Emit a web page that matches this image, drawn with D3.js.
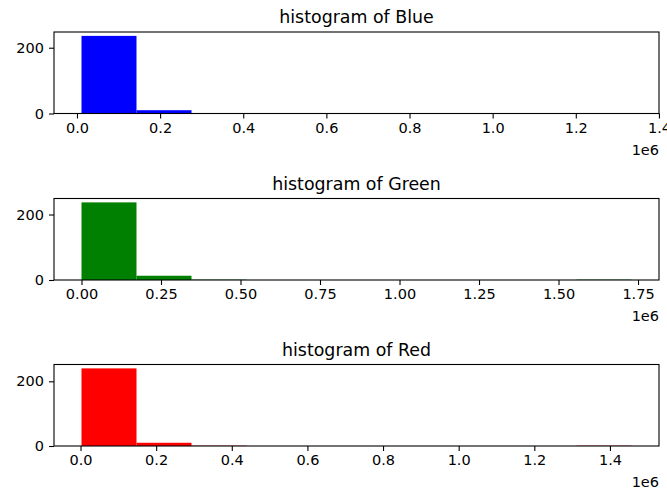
<!DOCTYPE html>
<html>
<head>
<meta charset="utf-8">
<script src="https://cdn.jsdelivr.net/npm/d3@7"></script>
<style>
  html, body { margin: 0; padding: 0; background: #fff; }
  svg text { font-family: "DejaVu Sans", sans-serif; fill: #000; }
</style>
</head>
<body>
<svg id="chart" width="667" height="490"></svg>
<script>
// Bin counts (10 equal-width bins) for each colour channel
const blueCounts  = [236, 10, 1, 1, 0, 0, 0, 0, 0, 1];
const greenCounts = [237, 13, 1, 0, 0, 0, 0, 0, 0, 1];
const redCounts   = [240, 10, 1, 0, 0, 0, 0, 0, 0, 1];

// Data range [min, max] for each channel (bins span this range)
const blueRange  = [0.0109e6, 1.334e6];
const greenRange = [0.0, 1.7295e6];
const redRange   = [0.0026e6, 1.457e6];

// X tick values (in units of 1e6) and their labels
const blueTicks   = [0.0, 0.2, 0.4, 0.6, 0.8, 1.0, 1.2, 1.4];
const blueLabels  = ["0.0", "0.2", "0.4", "0.6", "0.8", "1.0", "1.2", "1.4"];
const greenTicks  = [0.0, 0.25, 0.5, 0.75, 1.0, 1.25, 1.5, 1.75];
const greenLabels = ["0.00", "0.25", "0.50", "0.75", "1.00", "1.25", "1.50", "1.75"];
const redTicks    = [0.0, 0.2, 0.4, 0.6, 0.8, 1.0, 1.2, 1.4];
const redLabels   = ["0.0", "0.2", "0.4", "0.6", "0.8", "1.0", "1.2", "1.4"];

const yTicks = [0, 200];
const channelNames = ["Blue", "Green", "Red"];
const channelColors = ["#0000ff", "#008000", "#ff0000"];

const panels = [
  { counts: blueCounts,  range: blueRange,  ticks: blueTicks,  labels: blueLabels },
  { counts: greenCounts, range: greenRange, ticks: greenTicks, labels: greenLabels },
  { counts: redCounts,   range: redRange,   ticks: redTicks,   labels: redLabels }
];

const svg = d3.select("#chart");
const left = 54, right = 659;
const tops = [32, 198.5, 364.5];
const plotH = 81.5;

panels.forEach((p, i) => {
  const top = tops[i], bottom = top + plotH;
  const [lo, hi] = p.range;
  const span = hi - lo;
  const nb = p.counts.length;
  const bw = span / nb;

  const x = d3.scaleLinear()
    .domain([lo - 0.05 * span, hi + 0.05 * span])
    .range([left, right]);
  const yMax = d3.max(p.counts) * 1.05;
  const y = d3.scaleLinear().domain([0, yMax]).range([bottom, top]);

  const g = svg.append("g");

  // bars
  g.selectAll("rect.bar")
    .data(p.counts)
    .join("rect")
    .attr("class", "bar")
    .attr("x", (d, j) => x(lo + j * bw))
    .attr("width", (d, j) => x(lo + (j + 1) * bw) - x(lo + j * bw))
    .attr("y", d => y(d))
    .attr("height", d => y(0) - y(d))
    .attr("fill", channelColors[i]);

  // frame
  g.append("rect")
    .attr("x", left).attr("y", top)
    .attr("width", right - left).attr("height", plotH)
    .attr("fill", "none").attr("stroke", "#000").attr("stroke-width", 1.1);

  // x axis
  const xScaled = d3.scaleLinear()
    .domain(x.domain().map(v => v / 1e6)).range(x.range());
  const xAxis = d3.axisBottom(xScaled)
    .tickValues(p.ticks)
    .tickFormat((d, j) => p.labels[j])
    .tickSize(5).tickPadding(4);
  const gx = g.append("g").attr("transform", `translate(0,${bottom})`).call(xAxis);
  gx.select(".domain").remove();
  gx.selectAll("line").attr("stroke", "#000").attr("stroke-width", 1.1);
  gx.selectAll("text").attr("font-size", 14.5).attr("dy", "0.72em");

  // y axis
  const yAxis = d3.axisLeft(y).tickValues(yTicks).tickSize(5).tickPadding(5);
  const gy = g.append("g").attr("transform", `translate(${left},0)`).call(yAxis);
  gy.select(".domain").remove();
  gy.selectAll("line").attr("stroke", "#000").attr("stroke-width", 1.1);
  gy.selectAll("text").attr("font-size", 14.5);

  // offset label
  g.append("text")
    .attr("x", right).attr("y", bottom + 41)
    .attr("text-anchor", "end")
    .attr("font-size", 14.5)
    .text("1e6");

  // title
  g.append("text")
    .attr("x", (left + right) / 2).attr("y", top - 9)
    .attr("text-anchor", "middle")
    .attr("font-size", 17.4)
    .text("histogram of " + channelNames[i]);
});
</script>
</body>
</html>
